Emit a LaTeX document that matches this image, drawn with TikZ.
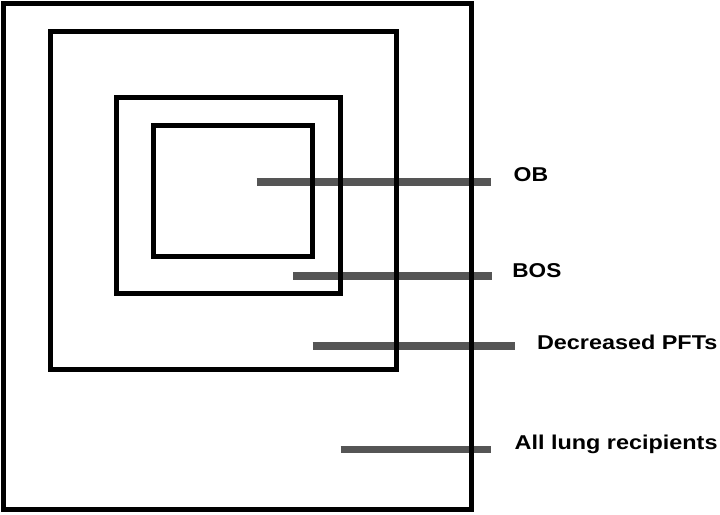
\documentclass[tikz,border=0pt]{standalone}
\usepackage{fontspec}
\setmainfont{Liberation Sans}
\begin{document}
\begin{tikzpicture}[x=1pt,y=-1pt,
  box/.style={draw=black,line width=5pt,fill=none},
  bar/.style={draw=barcol,line width=7.3pt},
  lbl/.style={anchor=base west,inner sep=0pt,font=\fontsize{20}{24}\selectfont\bfseries}]
\definecolor{barcol}{RGB}{85,85,85}
\useasboundingbox (0,0) rectangle (720,514);
% labels
\node[lbl] (ob)  at (513.5,181.7) {\scalebox{1.15}[1]{OB}};
\node[lbl] (bos) at (512.2,277.3) {\scalebox{1.13}[1]{BOS}};
\node[lbl] (pft) at (536.8,349.3) {\scalebox{1.17}[1]{Decreased PFTs}};
\node[lbl] (all) at (514.5,449)   {\scalebox{1.17}[1]{All lung recipients}};
% bar end points
\coordinate (obA) at (256.7,182);  \coordinate (obB) at (491,182);
\coordinate (bosA) at (293,276);   \coordinate (bosB) at (491.7,276);
\coordinate (pftA) at (312.7,346); \coordinate (pftB) at (515,346);
\coordinate (allA) at (340.7,449.5); \coordinate (allB) at (491,449.5);
\draw[bar] (obA) -- (obB);
\draw[bar] (bosA) -- (bosB);
\draw[bar] (pftA) -- (pftB);
\draw[bar] (allA) -- (allB);
% nested boxes
\draw[box] (3.5,3.5) rectangle (471.8,509);
\draw[box] (50.5,31.5) rectangle (396.5,369.5);
\draw[box] (116,97.5) rectangle (340,293);
\draw[box] (153.5,125) rectangle (312.5,256);
\end{tikzpicture}
\end{document}
